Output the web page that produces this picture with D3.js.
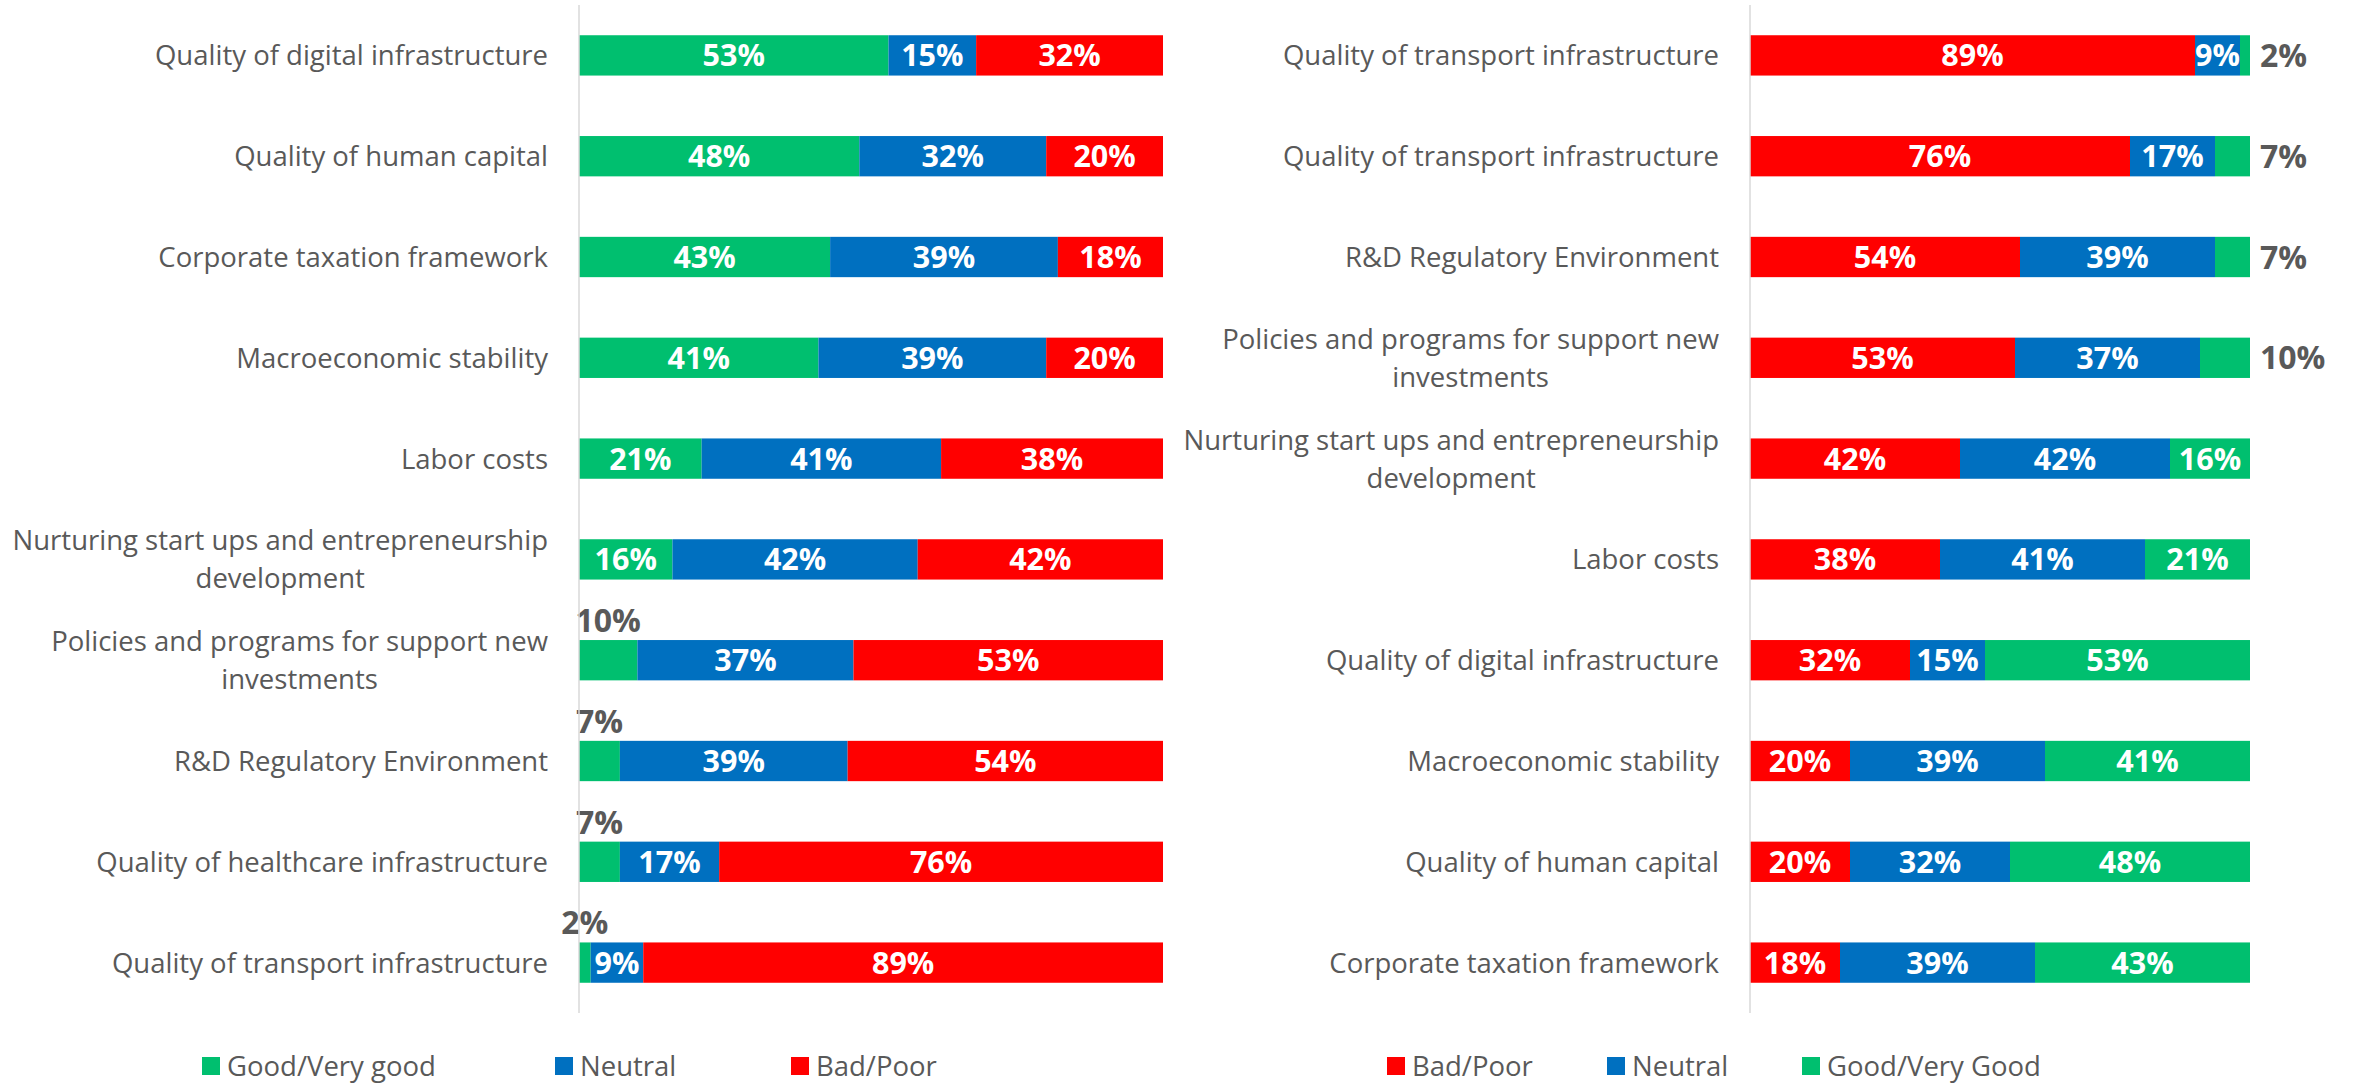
<!DOCTYPE html>
<html>
<head>
<meta charset="utf-8">
<script src="https://cdn.jsdelivr.net/npm/d3@7"></script>
<style>
  html, body { margin: 0; padding: 0; background: #fff; }
  svg { display: block; }
  text { font-family: "Open Sans", "Noto Sans", sans-serif; }
</style>
</head>
<body>
<svg id="chart" width="2359" height="1085"></svg>
<script>
// ---------- DATA ----------
const leftCategories = [
  "Quality of digital infrastructure",
  "Quality of human capital",
  "Corporate taxation framework",
  "Macroeconomic stability",
  "Labor costs",
  "Nurturing start ups and entrepreneurship\ndevelopment",
  "Policies and programs for support new\ninvestments",
  "R&D Regulatory Environment",
  "Quality of healthcare infrastructure",
  "Quality of transport infrastructure"
];
const leftGood    = [53, 48, 43, 41, 21, 16, 10, 7, 7, 2];
const leftNeutral = [15, 32, 39, 39, 41, 42, 37, 39, 17, 9];
const leftBad     = [32, 20, 18, 20, 38, 42, 53, 54, 76, 89];
const leftSeriesNames = ["Good/Very good", "Neutral", "Bad/Poor"];

const rightCategories = [
  "Quality of transport infrastructure",
  "Quality of transport infrastructure",
  "R&D Regulatory Environment",
  "Policies and programs for support new\ninvestments",
  "Nurturing start ups and entrepreneurship\ndevelopment",
  "Labor costs",
  "Quality of digital infrastructure",
  "Macroeconomic stability",
  "Quality of human capital",
  "Corporate taxation framework"
];
const rightBad     = [89, 76, 54, 53, 42, 38, 32, 20, 20, 18];
const rightNeutral = [9, 17, 39, 37, 42, 41, 15, 39, 32, 39];
const rightGood    = [2, 7, 7, 10, 16, 21, 53, 41, 48, 43];
const rightSeriesNames = ["Bad/Poor", "Neutral", "Good/Very Good"];

// ---------- STYLE ----------
const GREEN = "#00BF6F", BLUE = "#0070C0", RED = "#FF0000";
const TEXT = "#595959", AXIS = "#D9D9D9";

const svg = d3.select("#chart");

function drawPanel(cfg) {
  const n = cfg.categories.length;
  const y = d3.scaleBand()
    .domain(d3.range(n))
    .range([5, 1013])
    .paddingInner(0.6)
    .paddingOuter(0.3);
  const x = d3.scaleLinear().domain([0, 100]).range([cfg.x0, cfg.x1]);

  const g = svg.append("g");

  const rows = d3.range(n).map(i => {
    const obj = { i };
    cfg.keys.forEach((k, j) => obj[k] = cfg.series[j][i]);
    return obj;
  });
  const stack = d3.stack().keys(cfg.keys)(rows);

  const layers = g.selectAll("g.layer").data(stack).join("g")
    .attr("fill", (d, j) => cfg.colors[j]);
  layers.selectAll("rect").data(d => d).join("rect")
    .attr("x", d => x(d[0]))
    .attr("width", d => x(d[1]) - x(d[0]))
    .attr("y", d => y(d.data.i))
    .attr("height", y.bandwidth());

  // value labels
  stack.forEach((layer, j) => {
    layer.forEach(d => {
      const v = d[1] - d[0];
      const cy = y(d.data.i) + y.bandwidth() / 2;
      const small = v <= 10 && j === cfg.outsideIdx;
      const t = g.append("text")
        .text(v + "%")
        .attr("font-weight", 700);
      if (!small) {
        t.attr("x", (x(d[0]) + x(d[1])) / 2)
          .attr("y", cy)
          .attr("dy", "0.36em")
          .attr("text-anchor", "middle")
          .attr("fill", "#fff")
          .attr("font-size", 30.5);
      } else if (cfg.outsideMode === "above") {
        t.attr("x", (x(d[0]) + x(d[1])) / 2)
          .attr("y", y(d.data.i) - 8)
          .attr("text-anchor", "middle")
          .attr("fill", TEXT)
          .attr("font-size", 32);
      } else {
        t.attr("x", x(d[1]) + 10)
          .attr("y", cy)
          .attr("dy", "0.36em")
          .attr("text-anchor", "start")
          .attr("fill", TEXT)
          .attr("font-size", 32);
      }
    });
  });

  // axis line
  g.append("line")
    .attr("x1", cfg.x0).attr("x2", cfg.x0)
    .attr("y1", 5).attr("y2", 1013)
    .attr("stroke", AXIS).attr("stroke-width", 1.5);

  // category labels
  cfg.categories.forEach((c, i) => {
    const lines = c.split("\n");
    const cy = y(i) + y.bandwidth() / 2;
    const lh = 38;
    const txt = g.append("text")
      .attr("fill", TEXT)
      .attr("font-size", 27.5)
      .attr("text-anchor", lines.length > 1 ? "middle" : "end");
    if (lines.length === 1) {
      txt.attr("x", cfg.labelRight).attr("y", cy).attr("dy", "0.36em").text(c);
    } else {
      lines.forEach((ln, k) => {
        txt.append("tspan")
          .attr("x", 0)
          .attr("y", cy + (k - (lines.length - 1) / 2) * lh)
          .attr("dy", "0.36em")
          .text(ln);
      });
      const w = d3.max(txt.selectAll("tspan").nodes(), nd => nd.getComputedTextLength());
      txt.selectAll("tspan").attr("x", cfg.labelRight - w / 2);
    }
  });

  // legend
  cfg.legendX.forEach((lx, j) => {
    g.append("rect")
      .attr("x", lx).attr("y", 1057)
      .attr("width", 18).attr("height", 18)
      .attr("fill", cfg.colors[j]);
    g.append("text")
      .attr("x", lx + 25).attr("y", 1066).attr("dy", "0.35em")
      .attr("fill", TEXT).attr("font-size", 27.5)
      .text(cfg.names[j]);
  });
}

drawPanel({
  categories: leftCategories,
  series: [leftGood, leftNeutral, leftBad],
  keys: ["good", "neutral", "bad"],
  names: leftSeriesNames,
  colors: [GREEN, BLUE, RED],
  x0: 579, x1: 1163,
  labelRight: 548,
  outsideIdx: 0,
  outsideMode: "above",
  legendX: [202, 555, 791]
});

drawPanel({
  categories: rightCategories,
  series: [rightBad, rightNeutral, rightGood],
  keys: ["bad", "neutral", "good"],
  names: rightSeriesNames,
  colors: [RED, BLUE, GREEN],
  x0: 1750, x1: 2250,
  labelRight: 1719,
  outsideIdx: 2,
  outsideMode: "right",
  legendX: [1387, 1607, 1802]
});
</script>
</body>
</html>
